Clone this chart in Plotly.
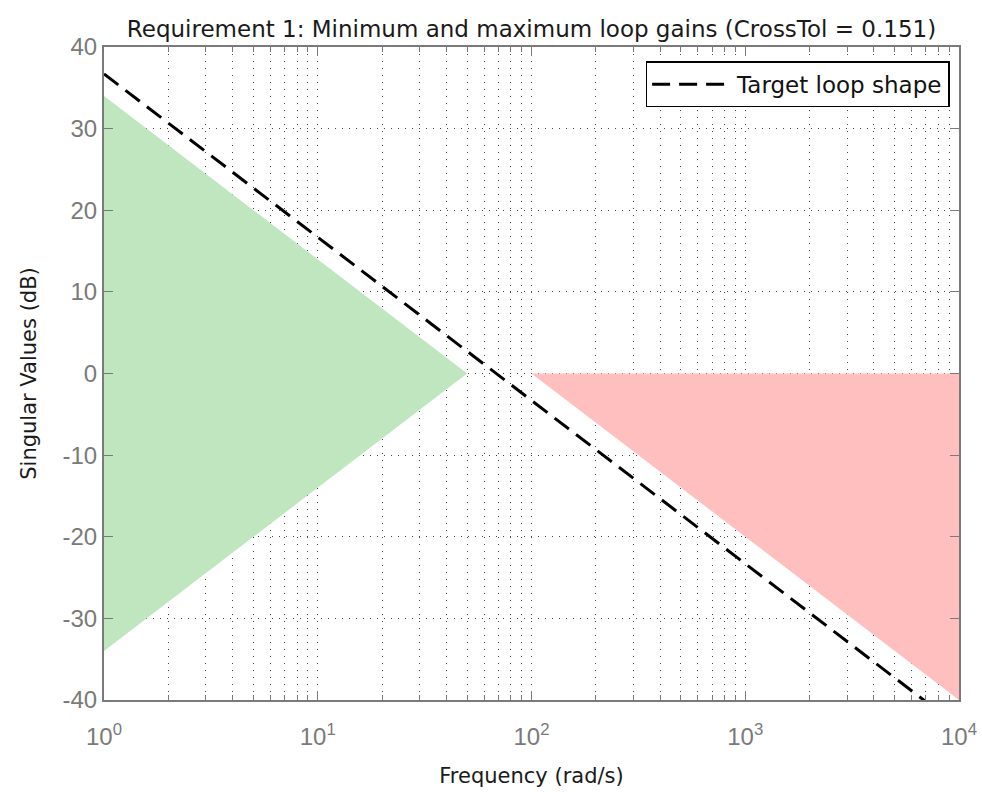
import plotly.graph_objects as go

# Data
target_freq = [1, 10000]
target_db = [36.7, -43.3]          # target loop shape (-20 dB/decade)
min_gain_freq = [1, 50, 1]
min_gain_db = [34, 0, -34]         # minimum gain region (green)
max_gain_freq = [100, 10000, 10000]
max_gain_db = [0, -40, 0]          # maximum gain region (red)
x_tickvals = [1, 10, 100, 1000, 10000]
x_ticktext = ["10<sup>0</sup>", "10<sup>1</sup>", "10<sup>2</sup>", "10<sup>3</sup>", "10<sup>4</sup>"]
x_minor_mult = [2, 3, 4, 5, 6, 7, 8, 9]
x_decades = [1, 10, 100, 1000]
y_tickvals = [-40, -30, -20, -10, 0, 10, 20, 30, 40]
y_ticktext = ["-40", "-30", "-20", "-10", "0", "10", "20", "30", "40"]

x_minor_vals = [d * m for d in x_decades for m in x_minor_mult]

FONT = "DejaVu Sans"
GRAY = "#7a7a7a"
GRIDC = "#444"

fig = go.Figure()
fig.add_trace(go.Scatter(x=min_gain_freq, y=min_gain_db, fill="toself", mode="none",
                         fillcolor="rgb(191,230,191)", showlegend=False, hoverinfo="skip"))
fig.add_trace(go.Scatter(x=max_gain_freq, y=max_gain_db, fill="toself", mode="none",
                         fillcolor="rgb(255,191,191)", showlegend=False, hoverinfo="skip"))
fig.add_trace(go.Scatter(x=target_freq, y=target_db, mode="lines", name="Target loop shape",
                         line=dict(color="black", width=3, dash="18px,9px")))

tickfont = dict(family="Liberation Sans", size=24, color=GRAY)
gridkw = dict(showgrid=True, gridcolor=GRIDC, griddash="1px,6px", gridwidth=1)
fig.update_layout(
    width=982, height=792,
    margin=dict(l=104, r=23, t=47, b=92, autoexpand=False),
    paper_bgcolor="white", plot_bgcolor="white",
    title=dict(text="Requirement 1: Minimum and maximum loop gains (CrossTol = 0.151)",
               x=0.5, xref="paper", xanchor="center", y=1, yref="paper", yanchor="bottom", pad=dict(b=10),
               font=dict(family=FONT, size=23, color="#1a1a1a")),
    showlegend=True,
    legend=dict(x=0.989, y=0.978, xanchor="right", yanchor="top",
                bordercolor="black", borderwidth=1.5, bgcolor="white",
                font=dict(family=FONT, size=23, color="#111"),
                itemwidth=80),
    xaxis=dict(type="log", range=[0, 4], tickvals=x_tickvals, ticktext=x_ticktext, automargin=False,
               tickfont=tickfont, ticks="inside", ticklen=9, tickcolor=GRAY, ticklabelstandoff=14,
               showline=True, linecolor=GRAY, linewidth=2, mirror="ticks",
               minor=dict(tickvals=x_minor_vals, ticks="inside", ticklen=5, tickcolor=GRAY,
                          showgrid=True, gridcolor=GRIDC, griddash="1px,6px", gridwidth=1),
               zeroline=False, **gridkw,
               title=dict(text="Frequency (rad/s)", standoff=20,
                          font=dict(family=FONT, size=21, color="#1a1a1a"))),
    yaxis=dict(range=[-40, 40], tickvals=y_tickvals, ticktext=y_ticktext, tickfont=tickfont, automargin=False,
               ticks="inside", ticklen=9, tickcolor=GRAY,
               showline=True, linecolor=GRAY, linewidth=2, mirror="ticks",
               zeroline=False, **gridkw,
               title=dict(text="Singular Values (dB)", standoff=20,
                          font=dict(family=FONT, size=21, color="#1a1a1a"))),
)
fig.write_html("out.html")
